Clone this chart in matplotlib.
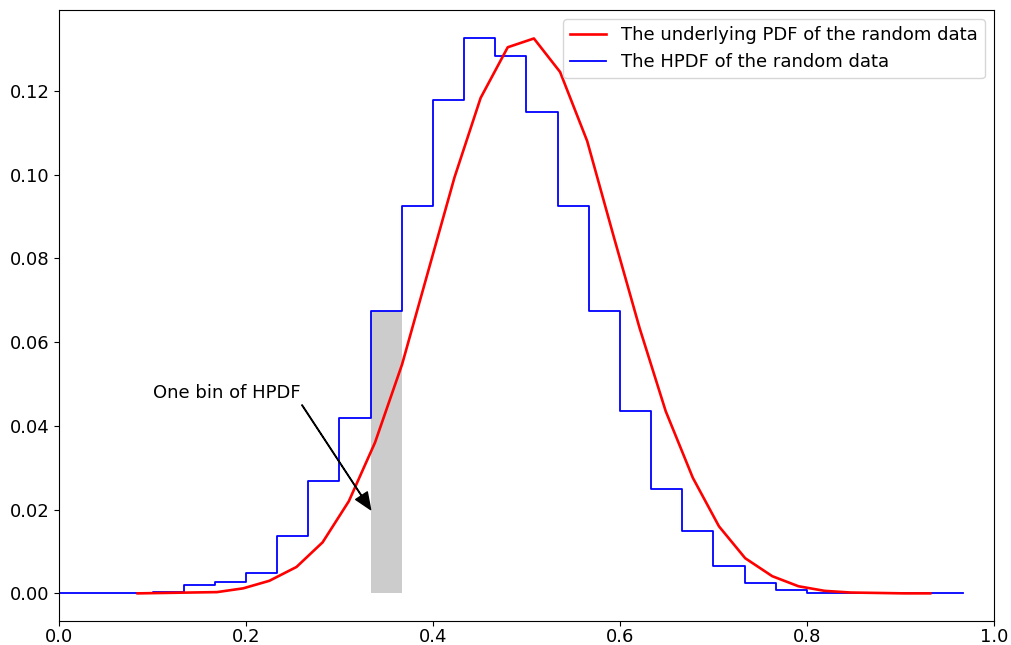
import numpy as np
import matplotlib
matplotlib.use("Agg")
import matplotlib.pyplot as plt

# histogram bins on [0, 1]
n_bins = 30
bin_edges = np.linspace(0, 1, n_bins + 1)

# HPDF of the random data (probability per bin)
hpdf = [0.0001, 0.0002, 0.0000, 0.0004, 0.0020, 0.0026, 0.0049, 0.0137,
        0.0268, 0.0418, 0.0674, 0.0925, 0.1179, 0.1327, 0.1284, 0.1150,
        0.0925, 0.0674, 0.0435, 0.0249, 0.0148, 0.0065, 0.0025, 0.0009,
        0.0001, 0.0000, 0.0000, 0.0001, 0.0000, 0.0000]

# underlying PDF sampled points
pdf_x = [0.084, 0.112, 0.140, 0.169, 0.197, 0.225, 0.254, 0.282, 0.310, 0.338,
         0.367, 0.395, 0.423, 0.451, 0.480, 0.508, 0.536, 0.565, 0.593, 0.621,
         0.649, 0.678, 0.706, 0.734, 0.763, 0.791, 0.819, 0.847, 0.876, 0.904,
         0.932]
pdf_y = [0.0000, 0.0001, 0.0002, 0.0003, 0.0012, 0.0030, 0.0063, 0.0122, 0.0220, 0.0360,
         0.0547, 0.0770, 0.0993, 0.1183, 0.1304, 0.1325, 0.1245, 0.1080, 0.0855, 0.0634,
         0.0435, 0.0276, 0.0160, 0.0084, 0.0041, 0.0017, 0.0006, 0.0002, 0.0001, 0.0000,
         0.0000]

highlight_bin = 10

plt.rcParams['font.size'] = 13

fig, ax = plt.subplots(figsize=(10.11, 6.45), dpi=100)
fig.subplots_adjust(left=0.0584, right=0.983, top=0.9845, bottom=0.0372)

ax.bar(bin_edges[highlight_bin], hpdf[highlight_bin], width=bin_edges[1] - bin_edges[0],
       align='edge', color='0.8', zorder=1)
ax.plot(pdf_x, pdf_y, color='r', lw=1.9, label='The underlying PDF of the random data', zorder=3)
ax.step(bin_edges[:-1], hpdf, where='post', color='b', lw=1.3,
        label='The HPDF of the random data', zorder=2)

ax.annotate('One bin of HPDF', xy=(bin_edges[highlight_bin], 0.02), xytext=(0.1, 0.0466),
            arrowprops=dict(facecolor='black', width=0.4, headwidth=10, headlength=12, shrink=0.0))

ax.set_xlim(0, 1)
ax.set_ylim(-0.0066, 0.1393)
ax.set_xticks([0.0, 0.2, 0.4, 0.6, 0.8, 1.0])
ax.set_yticks([0.00, 0.02, 0.04, 0.06, 0.08, 0.10, 0.12])
ax.tick_params(axis='x', pad=1.5)
ax.legend(loc='upper right')

fig.savefig('out.png', dpi=100)
